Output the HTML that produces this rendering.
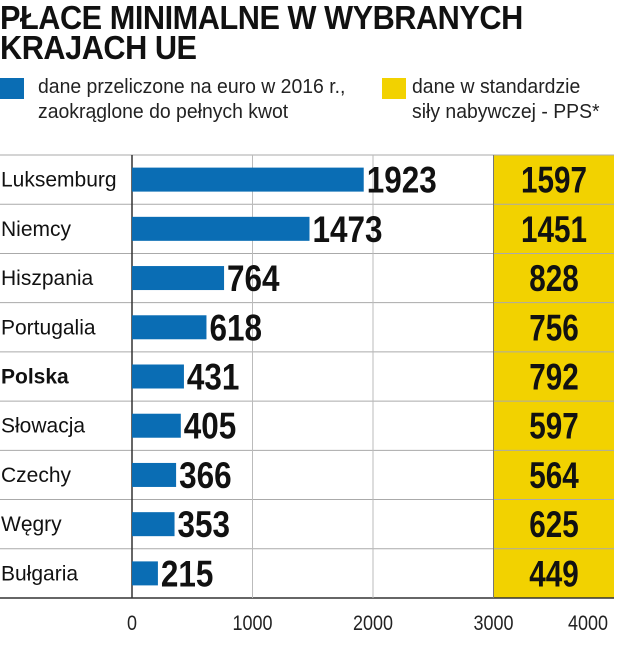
<!DOCTYPE html>
<html><head><meta charset="utf-8"><style>
body{margin:0;background:#fff;width:620px;height:651px;overflow:hidden;font-family:"Liberation Sans",sans-serif;}
.t{position:absolute;left:0;font-weight:bold;font-size:33px;line-height:30px;color:#111;letter-spacing:-0.5px;transform:scaleX(0.93);transform-origin:0 0;white-space:nowrap}
.lg{position:absolute;font-size:20px;line-height:25px;color:#222;transform:scaleX(0.97);transform-origin:0 0;white-space:nowrap}
.sq{position:absolute;width:24px;height:21px}
</style></head><body>
<div class="t" style="top:3px">PŁACE MINIMALNE W WYBRANYCH<br>KRAJACH UE</div>
<div class="sq" style="left:0;top:78px;background:#0a6db4"></div>
<div class="lg" style="left:38px;top:75px">dane przeliczone na euro w 2016 r.,<br>zaokrąglone do pełnych kwot</div>
<div class="sq" style="left:382px;top:78px;background:#f2d200"></div>
<div class="lg" style="left:412px;top:75px">dane w standardzie<br>siły nabywczej - PPS*</div>
<svg id="c" width="620" height="651" style="position:absolute;left:0;top:0"></svg>
<script>
const countries=["Luksemburg","Niemcy","Hiszpania","Portugalia","Polska","Słowacja","Czechy","Węgry","Bułgaria"];
const euroValues=[1923,1473,764,618,431,405,366,353,215];
const ppsValues=[1597,1451,828,756,792,597,564,625,449];
const ticks=[0,1000,2000,3000,4000];
const svg=document.getElementById('c');const NS="http://www.w3.org/2000/svg";
const x0=132,x1=614,top0=155,bot=598;
const xs=v=>x0+(v/4000)*(x1-x0);
const rowH=(bot-top0)/countries.length;
function mk(t,a,p){const e=document.createElementNS(NS,t);for(const k in a)e.setAttribute(k,a[k]);(p||svg).appendChild(e);return e;}
const yb=mk('rect',{x:xs(3000),y:top0,width:xs(4000)-xs(3000),height:bot-top0,fill:'#f2d200'});


for(let i=0;i<=countries.length;i++){const y=top0+i*rowH;const l=mk('line',{x1:0,x2:x1,y1:y,y2:y,stroke:i==countries.length?'#333':'#aaa','stroke-width':i==countries.length?1.5:1});

}
ticks.forEach((t,i)=>{const x=xs(t);
if(i>0&&i<4){const g=mk('line',{x1:x,x2:x,y1:top0,y2:bot,stroke:i==3?'#777':'#bbb','stroke-width':1});

}
const s=String(t);
const tx=mk('text',{x:i==4?x-26:x,y:630,'text-anchor':'middle','font-size':21,fill:'#222',textLength:s.length*10,lengthAdjust:'spacingAndGlyphs'});tx.textContent=s;

});
const ax=mk('line',{x1:x0,x2:x0,y1:top0,y2:bot,stroke:'#333','stroke-width':1.5});


countries.forEach((c,i)=>{const cy=top0+i*rowH+rowH/2;
const lb=mk('text',{x:1,y:cy+7,'font-size':21,fill:'#111','font-weight':c=='Polska'?'bold':'normal'});lb.textContent=c;


const b=mk('rect',{x:x0,y:cy-12,width:xs(euroValues[i])-x0,height:24,fill:'#0a6db4'});


const es=String(euroValues[i]);
const v=mk('text',{x:xs(euroValues[i])+3,y:cy+13,'font-size':37,'font-weight':'bold',fill:'#111',textLength:es.length*17.5,lengthAdjust:'spacingAndGlyphs'});v.textContent=es;


const ps=String(ppsValues[i]);
const pw=ps.length*16.5;
const p=mk('text',{x:554-pw/2,y:cy+13,'font-size':37,'font-weight':'bold',fill:'#111',textLength:pw,lengthAdjust:'spacingAndGlyphs'});p.textContent=ps;

});
</script>
</body></html>
